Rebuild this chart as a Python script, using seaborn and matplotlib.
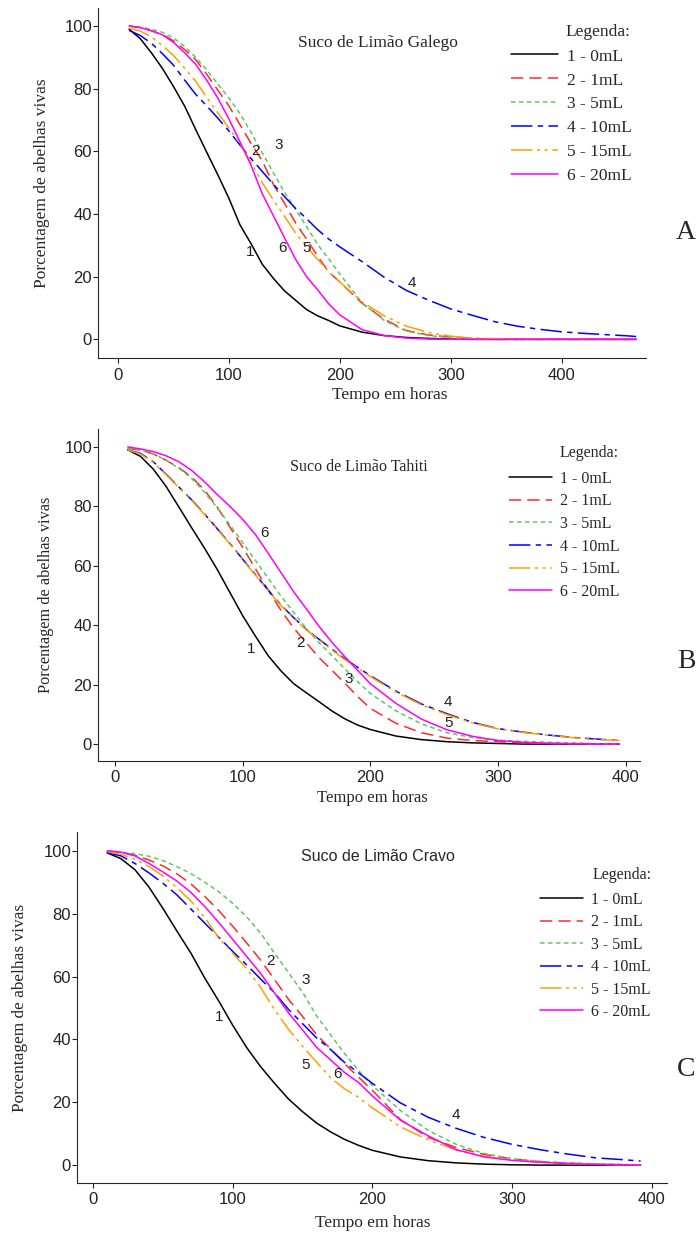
import matplotlib
matplotlib.use("Agg")
import matplotlib.pyplot as plt
import seaborn as sns
import pandas as pd

# --- data: % of live bees vs time (hours) ---
doses = ["1 - 0mL", "2 - 1mL", "3 - 5mL", "4 - 10mL", "5 - 15mL", "6 - 20mL"]

# Panel A - Suco de Limão Galego
horas_galego = [10, 20, 30, 40, 50, 60, 70, 80, 90, 100, 110, 120, 130, 140, 150, 160,
                170, 180, 190, 200, 220, 240, 260, 280, 300, 320, 340, 360, 380, 400,
                420, 440, 460, 467]
galego_0ml = [99, 96, 91.5, 86.5, 80.7, 74.5, 67, 59.7, 52.5, 45, 36.5, 30.5, 24, 19.5,
              15.5, 12.5, 9.5, 7.5, 6, 4.3, 2.3, 1.2, 0.6, 0.3, 0.1, 0, 0, 0, 0, 0,
              0, 0, 0, 0]
galego_1ml = [100, 99.5, 98.5, 97.3, 95.3, 92.5, 89.3, 84.6, 79.5, 74.5, 68.5, 62.5, 57,
              49.5, 43.5, 37.2, 32, 26.5, 21.5, 18.3, 11.5, 6.4, 2.8, 1.4, 0.7, 0.3, 0,
              0, 0, 0, 0, 0, 0, 0]
galego_5ml = [100, 99.6, 99, 98, 96.2, 93.5, 90, 86, 81.5, 77, 72, 66, 59.6, 53.2, 47,
              41.5, 36, 30.2, 25.7, 20.8, 11.7, 6, 2.6, 1.2, 0.5, 0.1, 0, 0, 0, 0,
              0, 0, 0, 0]
galego_10ml = [98.6, 97, 94.5, 91.2, 87.5, 82.8, 78.2, 74.5, 70.6, 66.5, 62, 57.7, 53.6,
               49.5, 45.6, 41.8, 38.5, 35, 32, 29.5, 24.8, 19.8, 15.6, 12.5, 9.7, 7.6,
               5.6, 4.2, 3.2, 2.4, 1.9, 1.5, 1.1, 0.9]
galego_15ml = [99.3, 98.4, 96.5, 93.8, 90.6, 86.6, 82.4, 77.2, 72.3, 67.4, 62.4, 56.5,
               50, 44.5, 39.3, 34, 29.5, 25.5, 21.5, 18.3, 12, 7.5, 4.2, 2.2, 1, 0.4,
               0.2, 0.1, 0, 0, 0, 0, 0, 0]
galego_20ml = [100, 99.5, 98.5, 97.2, 94.8, 91.5, 87.8, 82.7, 77, 70.3, 63, 55.5, 46.5,
               39.5, 32.5, 25.6, 20, 15.8, 11.3, 7.8, 3.1, 1.2, 0.4, 0.1, 0, 0, 0, 0,
               0, 0, 0, 0, 0, 0]

# Panel B - Suco de Limão Tahiti
horas_tahiti = [10, 20, 30, 40, 50, 60, 70, 80, 90, 100, 110, 120, 130, 140, 150, 160,
                170, 180, 190, 200, 220, 240, 260, 280, 300, 320, 340, 360, 380, 395]
tahiti_0ml = [99, 96.8, 92.5, 86.7, 79.8, 72.8, 66, 58.8, 51, 43.2, 36.3, 29.7, 24.6,
              20.3, 17.2, 14.2, 11.1, 8.5, 6.4, 4.9, 2.7, 1.5, 0.8, 0.4, 0.2, 0, 0, 0,
              0, 0]
tahiti_1ml = [99.5, 98.9, 97.6, 95.5, 93, 89.9, 85.5, 79.8, 73, 66.2, 59, 51.8, 45, 39,
              34, 29, 24.8, 20.5, 16, 12, 7, 3.8, 2, 1.2, 0.8, 0.4, 0.2, 0.1, 0, 0]
tahiti_5ml = [99.5, 98.9, 97.6, 95.6, 92.8, 89.4, 84.8, 79.5, 73.8, 67.8, 61.8, 55.8,
              49.8, 44.3, 38.8, 34, 29.7, 25.3, 21, 17, 11.2, 6.8, 3.8, 2.2, 1.3, 0.9,
              0.6, 0.4, 0.1, 0]
tahiti_10ml = [99, 97.8, 95, 90.8, 86.5, 82.2, 77.5, 72.5, 67.5, 62.2, 57, 51.8, 46.8,
               42.5, 38.5, 35.2, 31.9, 28.7, 25.8, 23, 17.8, 13.5, 10.2, 7.3, 5.2, 4,
               3, 2.2, 1.6, 1.2]
tahiti_15ml = [99, 97.6, 94.8, 90.6, 86.3, 82, 77.3, 72.3, 67.3, 62, 56.8, 51.6, 46.6,
               42.3, 38.3, 35, 31.6, 28.4, 25.5, 22.7, 17.5, 13.2, 9.9, 7.1, 5.1, 3.9,
               2.9, 2.1, 1.5, 1.2]
tahiti_20ml = [100, 99.3, 98.4, 97, 95, 92.1, 88.3, 84, 80, 75.6, 70.5, 64.2, 57.7,
               51.2, 45.4, 39.5, 34.2, 29.4, 24.8, 20.3, 13.7, 8.4, 4.8, 2.6, 1.2, 0.6,
               0.3, 0.1, 0, 0]

# Panel C - Suco de Limão Cravo
horas_cravo = [10, 20, 30, 40, 50, 60, 70, 80, 90, 100, 110, 120, 130, 140, 150, 160,
               170, 180, 190, 200, 220, 240, 260, 280, 300, 320, 340, 360, 380, 392]
cravo_0ml = [99.4, 97.5, 94, 88.5, 81.7, 74.5, 67.5, 59.5, 52.2, 44.5, 37.4, 31.3, 26,
             21, 17, 13.4, 10.6, 8.2, 6.3, 4.7, 2.6, 1.4, 0.7, 0.3, 0.1, 0, 0, 0, 0, 0]
cravo_1ml = [100, 99.5, 98.6, 97.1, 95.2, 92.7, 89.5, 85.5, 81, 76, 70.7, 65.2, 59,
             52.7, 47.3, 41.5, 37, 32.3, 28, 23.8, 14.5, 8.8, 5.6, 3.4, 2, 1.1, 0.6,
             0.3, 0.1, 0]
cravo_5ml = [100, 99.6, 99.1, 98.3, 96.9, 95, 92.8, 90, 87, 83.3, 79, 73.8, 67.4, 61.2,
             55, 47.5, 41.5, 35.5, 30.2, 25.3, 17.4, 11, 6.6, 3.7, 2, 1.2, 0.7, 0.4,
             0.2, 0]
cravo_10ml = [99.4, 98.4, 96, 93, 89.7, 86, 81.5, 77, 72.5, 68, 63.7, 59.2, 54.8, 49.5,
              45, 40.5, 36.8, 32.7, 29.4, 26, 19.8, 15.2, 11.7, 8.8, 6.6, 4.9, 3.5,
              2.3, 1.7, 1.3]
cravo_15ml = [99.8, 98.9, 97.3, 95, 92, 88.3, 84.1, 78.8, 72.3, 67.4, 62.5, 56.5, 49.4,
              43.2, 37.8, 32.8, 27.8, 24.3, 21.6, 18.2, 12.2, 8, 4.8, 2.8, 1.6, 0.9,
              0.5, 0.3, 0.1, 0]
cravo_20ml = [100, 99.6, 98.4, 96, 93.3, 90.4, 86.8, 82.3, 77.2, 71.8, 66.4, 61, 54.7,
              48.4, 43, 37.5, 33.5, 29.5, 26.3, 22, 14.3, 9.3, 4.9, 2.6, 1.5, 0.9, 0.5,
              0.2, 0.1, 0]

# where the curve numbers are written (hours, %)
labels_galego = [(119, 28), (124, 60), (145, 62), (265, 18), (170, 29), (148, 29)]
labels_tahiti = [(107, 32), (145, 34), (183, 22), (261, 14), (261, 7), (117, 71)]
labels_cravo = [(90, 47), (127, 65), (152, 59), (260, 16), (152, 32), (175, 29)]

# --- styles ---
colors = ["#000000", "#ff2a2a", "#5ec85e", "#0000ff", "#ffa000", "#ff00ff"]
dash_styles = ["", (8, 4), (3, 2.2), (14, 3.5, 3.5, 3.5), (14, 3, 2, 3, 2, 3), ""]
SERIF = ["Liberation Serif", "DejaVu Serif"]
SANS = ["Liberation Sans", "DejaVu Sans"]

sns.set_style("ticks")
plt.rcParams["font.family"] = SANS


def draw_panel(ax, horas, series, title, title_font, title_xy, curve_labels,
               xlim, ylim, leg_xy, leg_title_xy, leg_size, leg_spacing,
               xlabel_xy, xlabel_size, ylabel_x, ylabel_size):
    df = pd.DataFrame({
        "Tempo": horas * len(series),
        "Vivas": [v for s in series for v in s],
        "Dose": [d for d, s in zip(doses, series) for _ in s],
    })
    sns.lineplot(data=df, x="Tempo", y="Vivas", hue="Dose", style="Dose",
                 palette=dict(zip(doses, colors)),
                 dashes=dict(zip(doses, dash_styles)),
                 linewidth=1.1, estimator=None, ax=ax)

    handles, labels = ax.get_legend_handles_labels()
    keep = [(h, l) for h, l in zip(handles, labels) if l in doses]
    ax.legend([h for h, _ in keep], [l for _, l in keep], loc="upper left",
              bbox_to_anchor=leg_xy, frameon=False, borderpad=0, borderaxespad=0,
              handlelength=2.7, handletextpad=0.5, labelspacing=leg_spacing,
              prop={"family": SERIF, "size": leg_size})
    ax.text(leg_title_xy[0], leg_title_xy[1], "Legenda:", transform=ax.transAxes,
            ha="left", va="center", fontsize=leg_size, family=SERIF)

    ax.text(title_xy[0], title_xy[1], title, transform=ax.transAxes,
            ha="center", va="center", **title_font)

    for num, (tx, ty) in enumerate(curve_labels, start=1):
        ax.text(tx, ty, str(num), ha="center", va="center", fontsize=11,
                family=SANS, color="#222222")

    ax.set_xlim(*xlim)
    ax.set_ylim(*ylim)
    ax.set_xticks([0, 100, 200, 300, 400])
    ax.set_yticks([0, 20, 40, 60, 80, 100])
    ax.tick_params(direction="out", length=3.3, width=0.8, labelsize=12, colors="#222222")
    ax.tick_params(axis="y", pad=1)
    ax.tick_params(axis="x", pad=3.5)
    for s in ("left", "bottom"):
        ax.spines[s].set_linewidth(0.8)
    sns.despine(ax=ax)

    ax.set_xlabel("Tempo em horas", family=SERIF, fontsize=xlabel_size)
    ax.xaxis.label.set_va("center")
    ax.xaxis.set_label_coords(*xlabel_xy)
    ax.set_ylabel("Porcentagem de abelhas vivas", family=SERIF, fontsize=ylabel_size)
    ax.yaxis.label.set_va("center")
    ax.yaxis.set_label_coords(ylabel_x, 0.5)


fig = plt.figure(figsize=(7, 12.35), dpi=100)

ax_a = fig.add_axes([0.14, 0.710, 0.783, 0.2834])
draw_panel(ax_a, horas_galego,
           [galego_0ml, galego_1ml, galego_5ml, galego_10ml, galego_15ml, galego_20ml],
           "Suco de Limão Galego", {"family": SERIF, "fontsize": 12.5}, (0.511, 0.901),
           labels_galego, (-18, 476), (-6, 105.7), (0.754, 0.885), (0.852, 0.932),
           12.5, 0.45, (0.533, -0.106), 12.5, -0.102, 12.5)

ax_b = fig.add_axes([0.14, 0.3838, 0.774, 0.2688])
draw_panel(ax_b, horas_tahiti,
           [tahiti_0ml, tahiti_1ml, tahiti_5ml, tahiti_10ml, tahiti_15ml, tahiti_20ml],
           "Suco de Limão Tahiti", {"family": SERIF, "fontsize": 11.5}, (0.481, 0.886),
           labels_tahiti, (-13.3, 411), (-5.7, 106), (0.758, 0.875), (0.852, 0.928),
           11.5, 0.42, (0.507, -0.111), 12, -0.096, 11.7)

ax_c = fig.add_axes([0.11, 0.0421, 0.843, 0.2842])
draw_panel(ax_c, horas_cravo,
           [cravo_0ml, cravo_1ml, cravo_5ml, cravo_10ml, cravo_15ml, cravo_20ml],
           "Suco de Limão Cravo", {"family": SANS, "fontsize": 11.5}, (0.510, 0.930),
           labels_cravo, (-11.5, 411), (-5.7, 106), (0.785, 0.829), (0.873, 0.877),
           11.5, 0.4, (0.502, -0.114), 12.5, -0.097, 12.4)

for letter, y in (("A", 0.812), ("B", 0.464), ("C", 0.134)):
    fig.text(0.98, y, letter, ha="center", va="center", fontsize=20, family=SERIF)

fig.savefig("out.png", dpi=100)
